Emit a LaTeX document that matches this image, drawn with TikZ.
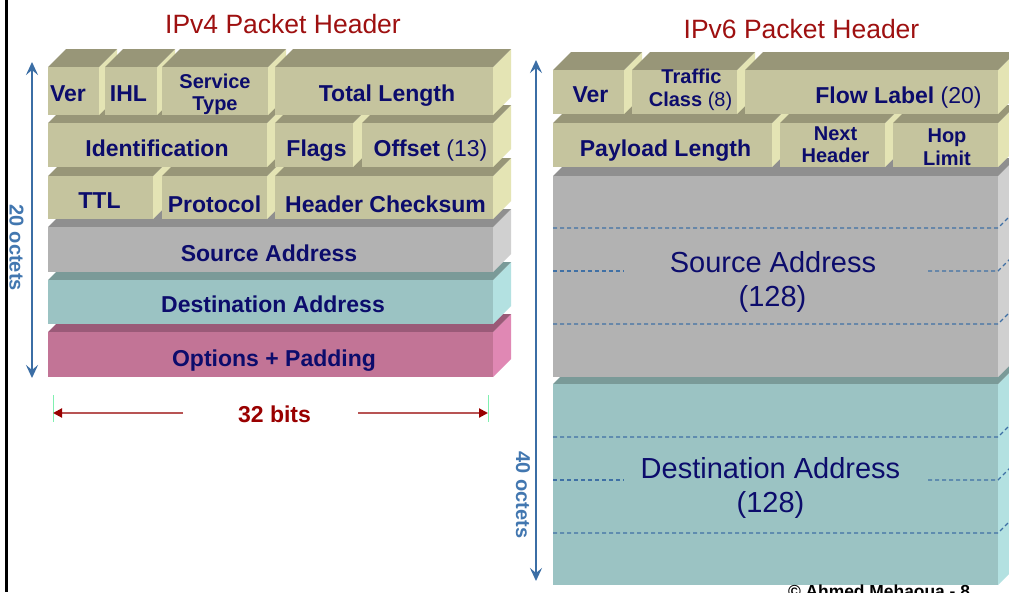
\documentclass[tikz,border=0pt]{standalone}
\usepackage{fontspec}
\setmainfont{Liberation Sans}
\usetikzlibrary{arrows.meta}
\definecolor{olF}{HTML}{C5C49E}
\definecolor{olT}{HTML}{989678}
\definecolor{olS}{HTML}{E4E4B4}
\definecolor{grF}{HTML}{B2B2B2}
\definecolor{grT}{HTML}{8F8F8F}
\definecolor{grS}{HTML}{D0D0D0}
\definecolor{tlF}{HTML}{9BC3C3}
\definecolor{tlT}{HTML}{7A9A98}
\definecolor{tlS}{HTML}{B3E1E1}
\definecolor{pkF}{HTML}{C27496}
\definecolor{pkT}{HTML}{9A5A78}
\definecolor{pkS}{HTML}{E088B4}
\definecolor{navy}{HTML}{0C0C6C}
\definecolor{titred}{HTML}{9E1010}
\definecolor{darkred}{HTML}{990000}
\definecolor{redline}{HTML}{B85454}
\definecolor{arrblue}{HTML}{3B6EA5}
\definecolor{octblue}{HTML}{4277B0}
\definecolor{dashblue}{HTML}{3F70A5}
\definecolor{tickgreen}{HTML}{80F0B0}
\newcommand\hdrbox[5]{%
  \fill[#5S] (#3,#2) -- (#3+18,#2-18) -- (#3+18,#4-18) -- (#3,#4) -- cycle;
  \fill[#5T] (#1,#2) -- (#1+18,#2-18) -- (#3+18,#2-18) -- (#3,#2) -- cycle;
  \fill[#5F] (#1,#2) rectangle (#3,#4);
}
\tikzset{
  fld/.style={font=\bfseries\fontsize{23}{26}\selectfont, text=navy, inner sep=0pt, anchor=base},
  fldsm/.style={font=\bfseries\fontsize{20}{23}\selectfont, text=navy, inner sep=0pt, anchor=base},
  big/.style={font=\fontsize{29}{33}\selectfont, text=navy, inner sep=0pt, anchor=base},
  ttl/.style={font=\fontsize{26.5}{30}\selectfont, text=titred, inner sep=0pt, anchor=base},
  oct/.style={font=\bfseries\fontsize{20}{23}\selectfont, text=octblue, rotate=-90, inner sep=0pt},
  barrow/.style={draw=arrblue, line width=2.2pt, {Stealth[length=13pt,width=12pt,inset=5pt]}-{Stealth[length=13pt,width=12pt,inset=5pt]}},
  rarrow/.style={draw=redline, line width=2pt, -{Triangle[length=9pt,width=9pt,color=darkred]}},
  tickln/.style={draw=tickgreen, line width=1pt},
  dsh/.style={draw=dashblue, line width=1.1pt, dash pattern=on 4pt off 3pt},
}
\begin{document}
\begin{tikzpicture}[x=1pt,y=-1pt]
\useasboundingbox (0,0) rectangle (1009,592);
\clip (0,0) rectangle (1009,592);
\fill[white] (0,0) rectangle (1009,592);
\fill[black] (5,0) rectangle (7.5,592);

% titles
\node[ttl] (t4) at (283,33) {IPv4 Packet Header};
\node[ttl] (t6) at (801.5,38) {IPv6 Packet Header};

% ---------- IPv4 ----------
\hdrbox{48}{332}{493}{377}{pk}
\hdrbox{48}{280}{493}{324}{tl}
\hdrbox{48}{227}{493}{272}{gr}
\hdrbox{48}{176}{153}{219}{ol}
\hdrbox{162}{176}{267}{219}{ol}
\hdrbox{275}{176}{493}{219}{ol}
\hdrbox{48}{123}{267}{167}{ol}
\hdrbox{275}{123}{353}{167}{ol}
\hdrbox{362}{123}{493}{167}{ol}
\hdrbox{48}{67}{99}{115}{ol}
\hdrbox{105}{67}{157}{115}{ol}
\hdrbox{162}{67}{268}{115}{ol}
\hdrbox{275}{67}{493}{115}{ol}

\node[fld] (ver4) at (68,101) {Ver};
\node[fld] (ihl) at (128.5,101) {IHL};
\node[fldsm] (svc1) at (215,88) {Service};
\node[fldsm] (svc2) at (215,110.5) {Type};
\node[fld] (tlen) at (387,101) {Total Length};
\node[fld] (ident) at (157,156) {Identification};
\node[fld] (flags) at (316.5,156) {Flags};
\node[fld] (offs) at (430.5,156) {Offset {\mdseries (13)}};
\node[fld] (ttl) at (99.5,208) {TTL};
\node[fld] (proto) at (214.5,212) {Protocol};
\node[fld] (hcs) at (385.5,212) {Header Checksum};
\node[fld] (src4) at (269,261) {Source Address};
\node[fld] (dst4) at (273,312) {Destination Address};
\node[fld] (opt) at (274,366) {Options + Padding};

% 20 octets arrow
\coordinate (a20t) at (32,62);
\coordinate (a20b) at (32,378);
\draw[barrow] (a20t) -- (a20b);
\node[oct] (o20) at (16.5,247.5) {20 octets};

% 32 bits
\draw[tickln] (53,395) -- (53,422);
\draw[tickln] (488,395) -- (488,422);
\node[fld, text=darkred] (bits) at (274.5,422) {32 bits};
\coordinate (bL) at (53,413);
\coordinate (bLs) at (183,413);
\coordinate (bR) at (488,413);
\coordinate (bRs) at (358,413);
\draw[rarrow] (bLs) -- (bL);
\draw[rarrow] (bRs) -- (bR);

% ---------- IPv6 ----------
\hdrbox{553}{384}{998}{585}{tl}
\hdrbox{553}{176}{998}{377}{gr}
\hdrbox{553}{123}{772}{167}{ol}
\hdrbox{780}{123}{885}{167}{ol}
\hdrbox{893}{123}{998}{167}{ol}
\hdrbox{553}{70}{624}{114}{ol}
\hdrbox{632}{70}{737}{114}{ol}
\hdrbox{745}{70}{998}{114}{ol}

\node[fld] (ver6) at (590.5,102) {Ver};
\node[fldsm] (tc1) at (691.5,83) {Traffic};
\node[fldsm] (tc2) at (690.5,106) {Class {\mdseries (8)}};
\node[fld] (flow) at (898.5,103) {Flow Label {\mdseries (20)}};
\node[fld] (plen) at (665.5,156) {Payload Length};
\node[fldsm] (nh1) at (835.5,140) {Next};
\node[fldsm] (nh2) at (835.5,162) {Header};
\node[fldsm] (hl1) at (947,142) {Hop};
\node[fldsm] (hl2) at (947,165) {Limit};

% dashed separators
\foreach \yy in {228,324,437,533} {
  \draw[dsh] (553,\yy) -- (998,\yy) -- (1016,\yy-18);
}
\foreach \yy in {271,480} {
  \draw[dsh] (553,\yy) -- (624,\yy);
  \draw[dsh] (928,\yy) -- (998,\yy) -- (1016,\yy-18);
}

\node[big] (src6) at (773,272) {Source Address};
\node[big] (src6b) at (772.5,306) {(128)};
\node[big] (dst6) at (770.5,478) {Destination Address};
\node[big] (dst6b) at (770.5,512) {(128)};

% 40 octets arrow
\coordinate (a40t) at (536,60);
\coordinate (a40b) at (536,581);
\draw[barrow] (a40t) -- (a40b);
\node[oct] (o40) at (523,495) {40 octets};

% footer (cut by page edge, as in the reference)
\node[anchor=base, inner sep=0pt, font=\bfseries\fontsize{17.4}{20}\selectfont] (cpy) at (879,597.5) {© Ahmed Mehaoua - 8};
\end{tikzpicture}
\end{document}
